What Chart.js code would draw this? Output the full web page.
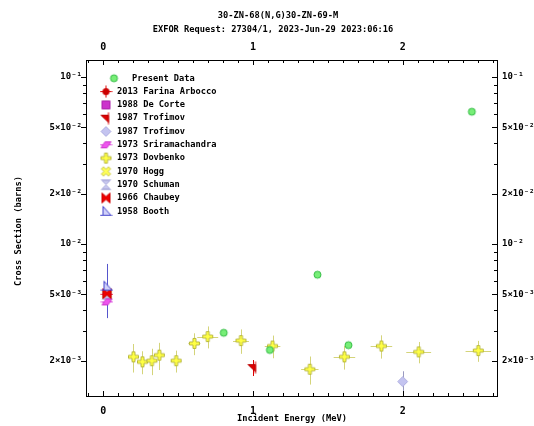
<!DOCTYPE html>
<html>
<head>
<meta charset="utf-8">
<script src="https://cdn.jsdelivr.net/npm/chart.js@4.4.0/dist/chart.umd.min.js"></script>
<style>
html, body { margin: 0; padding: 0; background: #fff; }
#wrap { width: 534px; height: 426px; }
</style>
</head>
<body>
<div id="wrap"><canvas id="grafico" width="534" height="426"></canvas></div>
<script>
// textos
const titulo1 = "30-ZN-68(N,G)30-ZN-69-M";
const titulo2 = "EXFOR Request: 27304/1, 2023-Jun-29 2023:06:16";
const tituloX = "Incident Energy (MeV)";
const tituloY = "Cross Section (barns)";

// eixos
const xTicks = [0, 1, 2];
const yTicks = [2e-3, 5e-3, 1e-2, 2e-2, 5e-2, 1e-1];
const yTickLabels = ["2×10⁻³", "5×10⁻³", "10⁻²", "2×10⁻²", "5×10⁻²", "10⁻¹"];

// Present Data
const presentE = [0.805, 1.113, 1.431, 1.638, 2.462];
const presentSig = [2.94e-3, 2.32e-3, 6.55e-3, 2.48e-3, 6.2e-2];

// 1973 Dovbenko
const dovbenkoE = [0.202, 0.262, 0.325, 0.375, 0.487, 0.609, 0.698, 0.92, 1.131, 1.38, 1.611, 1.858, 2.107, 2.505];
const dovbenkoSig = [2.11e-3, 1.97e-3, 2.00e-3, 2.16e-3, 2.00e-3, 2.54e-3, 2.79e-3, 2.64e-3, 2.45e-3, 1.78e-3, 2.11e-3, 2.45e-3, 2.26e-3, 2.30e-3];
const dovbenkoDE = [0.03, 0.03, 0.03, 0.03, 0.03, 0.04, 0.07, 0.053, 0.052, 0.058, 0.072, 0.072, 0.083, 0.085];
const dovbenkoDSig = [0.41e-3, 0.31e-3, 0.36e-3, 0.40e-3, 0.30e-3, 0.38e-3, 0.42e-3, 0.44e-3, 0.38e-3, 0.34e-3, 0.34e-3, 0.39e-3, 0.33e-3, 0.33e-3];

// 1987 Trofimov (dois conjuntos)
const trofimovAE = [1.0];
const trofimovASig = [1.82e-3];
const trofimovADSig = [0.2e-3];
const trofimovBE = [2.0];
const trofimovBSig = [1.50e-3];
const trofimovBDSig = [0.23e-3];

// pontos termicos
const boothE = [0.025];
const boothSig = [5.6e-3];
const boothDSig = [2.0e-3];
const chaubeyE = [0.025];
const chaubeySig = [5.05e-3];
const sriramE = [0.025];
const sriramSig = [4.5e-3];
const farinaE = [0.025];
const farinaSig = [5.0e-3];
const deCorteE = [0.025];
const deCorteSig = [5.0e-3];
const hoggE = [0.025];
const hoggSig = [5.0e-3];
const schumanE = [0.025];
const schumanSig = [5.0e-3];

const FONTE = "'DejaVu Sans Mono', 'Liberation Mono', monospace";

function marcador(tipo) {
  const c = document.createElement('canvas');
  c.width = 13; c.height = 13;
  const g = c.getContext('2d');
  g.translate(6.5, 6.5);
  g.lineWidth = 1;
  function poli(pts, fill, stroke) {
    g.beginPath();
    pts.forEach((p, i) => i ? g.lineTo(p[0], p[1]) : g.moveTo(p[0], p[1]));
    g.closePath();
    if (fill) { g.fillStyle = fill; g.fill(); }
    if (stroke) { g.strokeStyle = stroke; g.stroke(); }
  }
  const cruz = [[-1.5,-5],[1.5,-5],[1.5,-1.5],[5,-1.5],[5,1.5],[1.5,1.5],[1.5,5],[-1.5,5],[-1.5,1.5],[-5,1.5],[-5,-1.5],[-1.5,-1.5]];
  switch (tipo) {
    case 'present':
      g.beginPath(); g.arc(0, 0, 3.5, 0, Math.PI * 2);
      g.fillStyle = '#77ee77'; g.fill(); g.strokeStyle = '#33bb44'; g.stroke();
      break;
    case 'farina':
      g.strokeStyle = '#dd0000';
      g.beginPath(); g.moveTo(-6, 0); g.lineTo(6, 0); g.moveTo(0, -6); g.lineTo(0, 6); g.stroke();
      g.beginPath(); g.arc(0, 0, 3.5, 0, Math.PI * 2); g.fillStyle = '#cc0000'; g.fill();
      break;
    case 'decorte':
      poli([[-4,-4],[4,-4],[4,4],[-4,4]], '#cc33cc', '#aa22aa');
      break;
    case 'trofA':
      g.strokeStyle = '#dd0000';
      g.beginPath(); g.moveTo(2.5, -6); g.lineTo(2.5, 6); g.stroke();
      poli([[-5,-3],[2.5,-3],[2.5,4]], '#dd0000', '#bb0000');
      break;
    case 'trofB':
      poli([[0,-5],[5,0],[0,5],[-5,0]], '#c4c4f0', '#b0b0e0');
      break;
    case 'sriram':
      g.strokeStyle = '#dd44dd';
      g.beginPath(); g.moveTo(-6, 0); g.lineTo(6, 0); g.stroke();
      poli([[-5,3],[-1,-3],[5,-3],[1,3]], '#ee55ee', '#cc33cc');
      break;
    case 'dovbenko':
      poli(cruz, '#ffff44', '#b8b840');
      break;
    case 'hogg':
      g.rotate(Math.PI / 4);
      poli(cruz, '#ffff55', '#d8d860');
      break;
    case 'schuman':
      g.strokeStyle = '#b8b8e0';
      g.beginPath(); g.moveTo(-5, -5); g.lineTo(5, -5); g.moveTo(-5, 5); g.lineTo(5, 5); g.stroke();
      poli([[-4,-4],[4,-4],[0,0],[4,4],[-4,4],[0,0]], '#c8c8ee', '#b0b0e0');
      break;
    case 'chaubey':
      poli([[-4,-5],[0,-1.5],[4,-5],[4,5],[0,1.5],[-4,5]], '#ee0000', '#cc0000');
      break;
    case 'booth':
      poli([[-3,-5],[-3,4],[5,4]], '#d0d0f8', '#4444cc');
      g.strokeStyle = '#4444cc';
      g.beginPath(); g.moveTo(-6, 4); g.lineTo(6, 4); g.stroke();
      break;
  }
  return c;
}

function pontos(xs, ys) {
  return xs.map((x, i) => ({ x: x, y: ys[i] }));
}

// ordem na legenda
const conjuntos = [
  { nome: 'Present Data', tipo: 'present', x: presentE, y: presentSig },
  { nome: '2013 Farina Arbocco', tipo: 'farina', x: farinaE, y: farinaSig },
  { nome: '1988 De Corte', tipo: 'decorte', x: deCorteE, y: deCorteSig },
  { nome: '1987 Trofimov', tipo: 'trofA', x: trofimovAE, y: trofimovASig, dy: trofimovADSig, cor: '#dd0000' },
  { nome: '1987 Trofimov', tipo: 'trofB', x: trofimovBE, y: trofimovBSig, dy: trofimovBDSig, cor: '#9a9ac0' },
  { nome: '1973 Sriramachandra', tipo: 'sriram', x: sriramE, y: sriramSig },
  { nome: '1973 Dovbenko', tipo: 'dovbenko', x: dovbenkoE, y: dovbenkoSig, dx: dovbenkoDE, dy: dovbenkoDSig, cor: '#d4d47a' },
  { nome: '1970 Hogg', tipo: 'hogg', x: hoggE, y: hoggSig },
  { nome: '1970 Schuman', tipo: 'schuman', x: schumanE, y: schumanSig },
  { nome: '1966 Chaubey', tipo: 'chaubey', x: chaubeyE, y: chaubeySig },
  { nome: '1958 Booth', tipo: 'booth', x: boothE, y: boothSig, dy: boothDSig, cor: '#5555cc' }
];

// quem fica por cima
const ordemDesenho = { present: 1, booth: 2, chaubey: 3, sriram: 4, trofA: 5, trofB: 6, dovbenko: 7, farina: 20, decorte: 19, hogg: 18, schuman: 17 };

conjuntos.forEach(c => { c.img = marcador(c.tipo); });

const datasets = conjuntos.map(c => ({
  label: c.nome,
  data: pontos(c.x, c.y),
  pointStyle: c.img,
  pointRadius: 6,
  showLine: false,
  order: ordemDesenho[c.tipo],
  errX: c.dx,
  errY: c.dy,
  errCor: c.cor
}));

const barrasErro = {
  id: 'barrasErro',
  beforeDatasetsDraw(chart) {
    const ctx = chart.ctx;
    const sx = chart.scales.x, sy = chart.scales.y;
    ctx.save();
    ctx.lineWidth = 1;
    chart.data.datasets.forEach(ds => {
      if (!ds.errX && !ds.errY) return;
      ctx.strokeStyle = ds.errCor;
      ds.data.forEach((p, i) => {
        const px = Math.round(sx.getPixelForValue(p.x)) + 0.5;
        const py = Math.round(sy.getPixelForValue(p.y)) + 0.5;
        ctx.beginPath();
        if (ds.errX) {
          ctx.moveTo(sx.getPixelForValue(p.x - ds.errX[i]), py);
          ctx.lineTo(sx.getPixelForValue(p.x + ds.errX[i]), py);
        }
        if (ds.errY) {
          ctx.moveTo(px, sy.getPixelForValue(p.y + ds.errY[i]));
          ctx.lineTo(px, sy.getPixelForValue(p.y - ds.errY[i]));
        }
        ctx.stroke();
      });
    });
    ctx.restore();
  }
};

const enfeites = {
  id: 'enfeites',
  afterDraw(chart) {
    const ctx = chart.ctx;
    const a = chart.chartArea;
    const sx = chart.scales.x, sy = chart.scales.y;
    ctx.save();
    ctx.fillStyle = '#000';
    ctx.strokeStyle = '#000';
    ctx.lineWidth = 1;

    // titulo
    ctx.font = 'bold 8.7px ' + FONTE;
    ctx.textAlign = 'center';
    ctx.textBaseline = 'middle';
    ctx.fillText(titulo1, 278, 16);
    ctx.fillText(titulo2, 273, 30);

    // titulos dos eixos
    ctx.fillText(tituloX, 292, 419);
    ctx.save();
    ctx.translate(19, 231);
    ctx.rotate(-Math.PI / 2);
    ctx.fillText(tituloY, 0, 0);
    ctx.restore();

    // marcas do eixo x
    ctx.beginPath();
    for (let k = -1; k <= 26; k++) {
      const v = k / 10;
      const px = Math.round(sx.getPixelForValue(v)) + 0.5;
      if (px < a.left || px > a.right) continue;
      const len = (k % 10 === 0) ? 5 : 3;
      ctx.moveTo(px, a.bottom); ctx.lineTo(px, a.bottom - len);
      ctx.moveTo(px, a.top); ctx.lineTo(px, a.top + len);
    }
    // marcas do eixo y
    for (let d = -3; d <= -1; d++) {
      for (let m = 1; m <= 9; m++) {
        const v = m * Math.pow(10, d);
        const py = Math.round(sy.getPixelForValue(v)) + 0.5;
        if (py < a.top || py > a.bottom) continue;
        const len = (m === 1 || m === 2 || m === 5) ? 5 : 3;
        ctx.moveTo(a.left, py); ctx.lineTo(a.left - len, py);
        ctx.moveTo(a.right, py); ctx.lineTo(a.right - len, py);
      }
    }
    ctx.stroke();

    // legenda
    ctx.font = 'bold 8.7px ' + FONTE;
    ctx.textAlign = 'left';
    conjuntos.forEach((c, i) => {
      const y = 78.3 + i * 13.3;
      const mx = i === 0 ? 114 : 106;
      const tx = i === 0 ? 132 : 117;
      ctx.drawImage(c.img, mx - 6.5, y - 6.5);
      ctx.fillText(c.nome, tx, y);
    });
    ctx.restore();
  }
};

const eixoLog = (posicao) => ({
  type: 'logarithmic',
  position: posicao,
  min: 1.23e-3,
  max: 0.1265,
  afterBuildTicks: s => { s.ticks = yTicks.map(v => ({ value: v })); },
  afterFit: s => { s.width = posicao === 'left' ? 86 : 37; },
  grid: { display: false, drawTicks: false, tickLength: 0 },
  border: { display: true, color: '#000', width: 1 },
  ticks: {
    color: '#000',
    font: { family: FONTE, size: 9, weight: 'bold' },
    padding: posicao === 'left' ? 4 : 5,
    autoSkip: false,
    callback: (v) => {
      const i = yTicks.findIndex(t => Math.abs(t - v) / t < 1e-6);
      return i >= 0 ? yTickLabels[i] : '';
    }
  }
});

const eixoLinear = (posicao) => ({
  type: 'linear',
  position: posicao,
  min: -0.115,
  max: 2.63,
  afterBuildTicks: s => { s.ticks = xTicks.map(v => ({ value: v })); },
  afterFit: s => { s.height = posicao === 'bottom' ? 30 : 60; },
  grid: { display: false, drawTicks: false, tickLength: 0 },
  border: { display: true, color: '#000', width: 1 },
  ticks: {
    color: '#000',
    font: { family: FONTE, size: 10, weight: 'bold' },
    padding: posicao === 'bottom' ? 9 : 7,
    maxRotation: 0,
    autoSkip: false,
    callback: v => String(v)
  }
});

new Chart(document.getElementById('grafico').getContext('2d'), {
  type: 'scatter',
  data: { datasets: datasets },
  options: {
    responsive: false,
    animation: false,
    devicePixelRatio: 1,
    layout: { padding: 0 },
    plugins: {
      legend: { display: false },
      title: { display: false },
      tooltip: { enabled: false }
    },
    scales: {
      x: eixoLinear('bottom'),
      x2: eixoLinear('top'),
      y: eixoLog('left'),
      y2: eixoLog('right')
    }
  },
  plugins: [barrasErro, enfeites]
});
</script>
</body>
</html>
